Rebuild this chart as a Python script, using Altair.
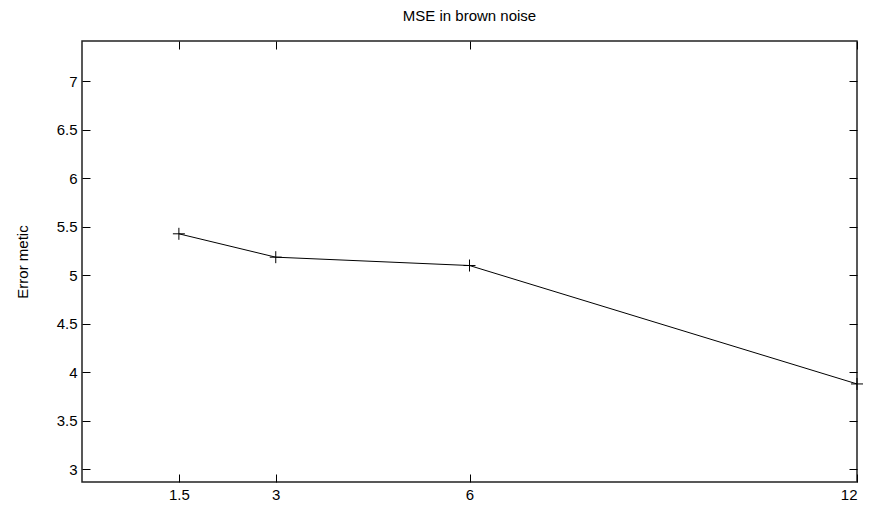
import altair as alt
import pandas as pd

x_vals = [1.5, 3, 6, 12]
y_vals = [5.425, 5.184, 5.098, 3.877]
x_ticks = [1.5, 3, 6, 12]
y_ticks = [3, 3.5, 4, 4.5, 5, 5.5, 6, 6.5, 7]
title = "MSE in brown noise"
y_title = "Error metic"

df = pd.DataFrame({"x": x_vals, "y": y_vals})

FONT = "Liberation Sans"
FS = 15
xs = alt.Scale(domain=[0, 12], nice=False, zero=False)
ys = alt.Scale(domain=[2.866, 7.413], nice=False, zero=False)

common = dict(domain=False, grid=False, tickSize=8, tickColor="black", tickWidth=1,
              offset=-8, labelFont=FONT, labelFontSize=FS, labelColor="black",
              format="~g")

base = alt.Chart(df)

line = base.mark_line(color="black", strokeWidth=1).encode(
    x=alt.X("x:Q", scale=xs, axis=alt.Axis(orient="bottom", values=x_ticks, title=None,
                                           labelPadding=5, **common)),
    y=alt.Y("y:Q", scale=ys, axis=alt.Axis(orient="left", values=y_ticks, title=y_title,
                                           titleFont=FONT, titleFontSize=FS, titleFontWeight="normal",
                                           titleColor="black", titlePadding=26,
                                           labelPadding=5, **common)),
)

cross = "M-1,0L1,0M0,-1L0,1"
points = base.mark_point(shape=cross, size=144, filled=False, color="black", strokeWidth=1,
                         opacity=1).encode(
    x=alt.X("x:Q", scale=xs, axis=None),
    y=alt.Y("y:Q", scale=ys, axis=None),
)

mirror = base.mark_point(opacity=0).encode(
    x=alt.X("x:Q", scale=xs, axis=alt.Axis(orient="top", values=x_ticks, title=None,
                                           labels=False, **common)),
    y=alt.Y("y:Q", scale=ys, axis=alt.Axis(orient="right", values=y_ticks, title=None,
                                           labels=False, **common)),
)

chart = alt.layer(line, points, mirror).resolve_axis(x="independent", y="independent").properties(
    width=775,
    height=441,
    title=alt.TitleParams(title, font=FONT, fontSize=FS, fontWeight="normal", color="black",
                          anchor="middle", offset=17),
    autosize=alt.AutoSizeParams(type="none"),
    padding={"left": 74, "top": 33, "right": 6, "bottom": 22},
).configure(background="white").configure_view(stroke="#222222", strokeWidth=1.5)

chart.save("out.html", embed_options={"renderer": "svg", "actions": False})
